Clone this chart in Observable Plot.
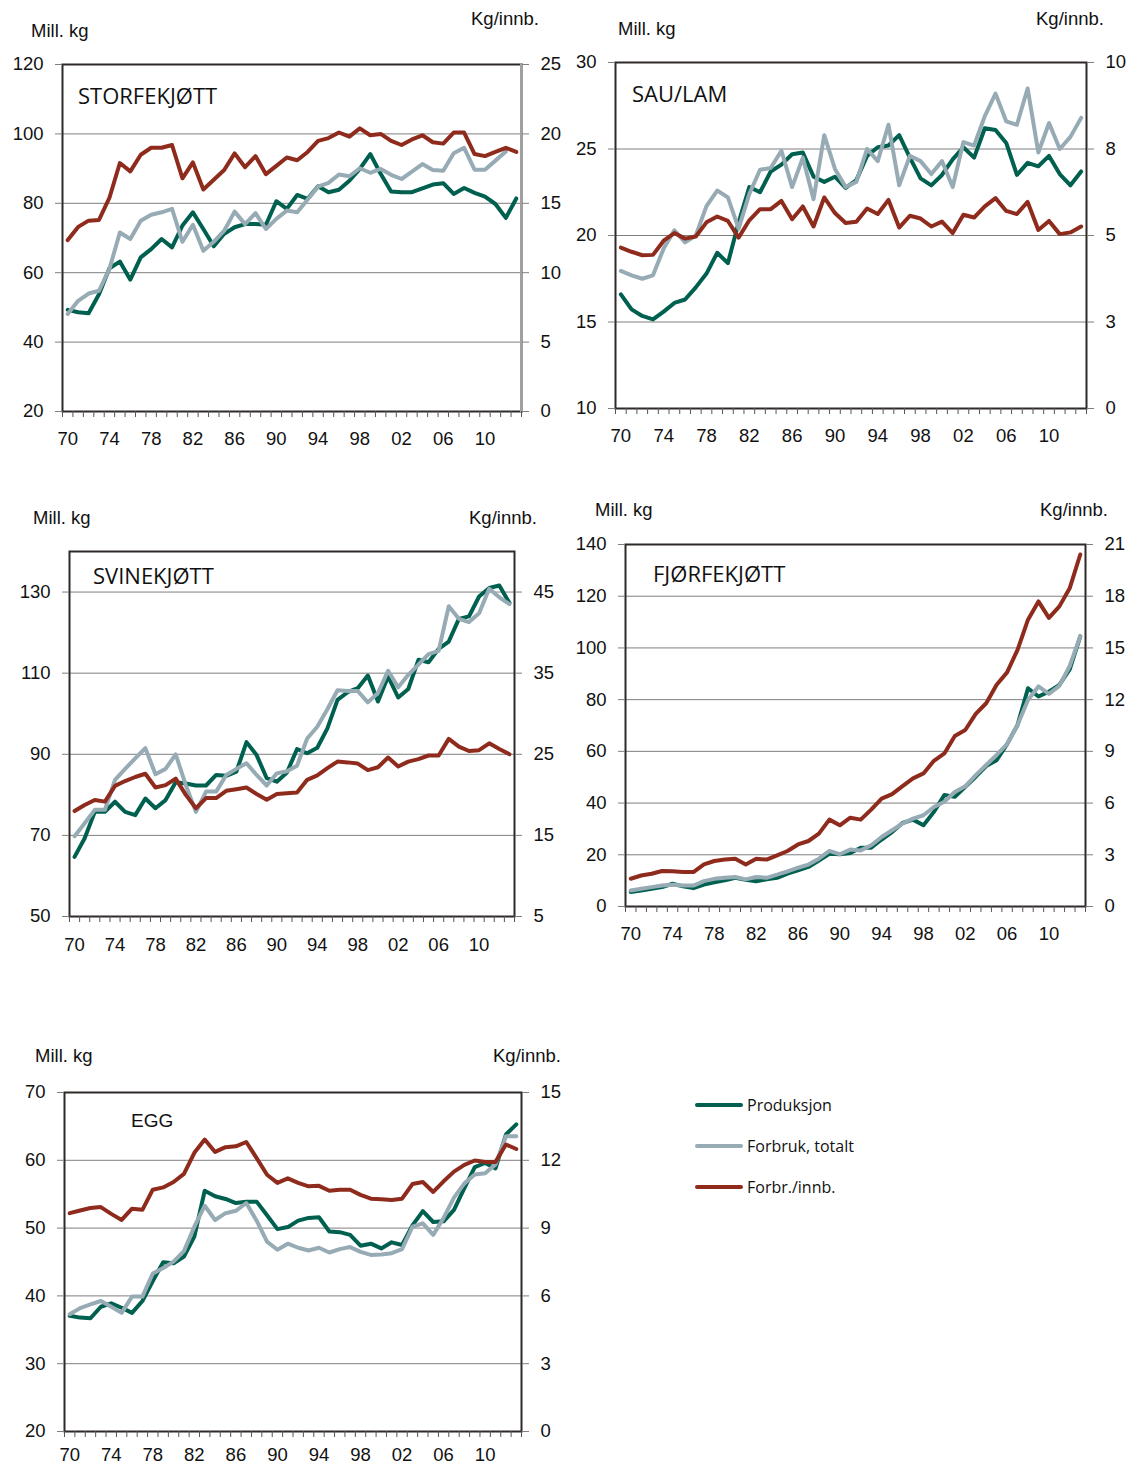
<!DOCTYPE html>
<html><head><meta charset="utf-8">
<script src="https://cdn.jsdelivr.net/npm/d3@7"></script>
<script src="https://cdn.jsdelivr.net/npm/@observablehq/plot@0.6"></script>
<style>
body{margin:0;background:#fff;width:1132px;height:1463px;overflow:hidden;position:relative;font-family:"Liberation Sans",Arial,sans-serif;}
.lab{position:absolute;font-size:18.5px;line-height:18px;color:#111;white-space:nowrap;}
.title{position:absolute;font-family:"Open Sans",sans-serif;font-size:22px;line-height:22px;color:#111;white-space:nowrap;}
.egg{font-family:"Liberation Sans",Arial,sans-serif;font-size:19px;}
.plot{position:absolute;}
.leg{position:absolute;font-family:"Open Sans",sans-serif;font-size:16px;line-height:18px;color:#111;white-space:nowrap;}
.legline{position:absolute;height:4px;border-radius:2px;}
</style></head><body>
<div id="root"></div>
<script>
const years = d3.range(1970, 2014);
const yearLabels = [1970,1974,1978,1982,1986,1990,1994,1998,2002,2006,2010];
const seriesNames = ["Produksjon","Forbruk, totalt","Forbr./innb."];
const seriesColors = ["#00604f","#97abb5","#8f2b1c"];

// STORFEKJØTT (Mill. kg / Kg per innb.)
const storfeProd = [49.3,48.6,48.3,53.8,61.3,63.2,58.0,64.4,66.8,69.7, 67.3,73.6,77.4,72.6,67.6,71.2,73.1,74.0,74.0,73.8, 80.6,78.4,82.4,81.3,84.9,83.2,83.9,86.5,89.9,94.2, 88.5,83.4,83.2,83.2,84.3,85.4,85.8,82.7,84.4,83.0, 81.9,79.8,75.8,81.4];
const storfeForbruk = [48.1,51.9,54.0,54.8,61.1,71.6,69.7,75.0,76.7,77.4, 78.4,68.9,73.8,66.3,68.9,72.1,77.6,74.0,77.2,72.6, 75.5,77.9,77.4,81.1,84.8,85.9,88.3,87.8,90.1,88.8, 89.9,88.2,87.0,89.1,91.3,89.6,89.4,94.4,96.0,89.7, 89.7,92.3,94.9,null];
const storfeInnb = [12.35,13.3,13.75,13.8,15.4,17.9,17.3,18.5,19.0,19.0, 19.2,16.8,17.95,16.0,16.7,17.4,18.6,17.6,18.4,17.1, 17.7,18.3,18.1,18.7,19.5,19.7,20.1,19.8,20.4,19.9, 20.0,19.5,19.2,19.6,19.9,19.4,19.3,20.1,20.1,18.55, 18.4,18.7,19.0,18.7];
const storfeLeftTicks = [20,40,60,80,100,120];
const storfeRightTicks = ["0","5","10","15","20","25"];

// SAU/LAM
const sauProd = [16.6,15.73,15.35,15.15,15.6,16.1,16.3,17.0,17.8,19.0, 18.4,20.75,22.8,22.5,23.7,24.1,24.7,24.8,23.4,23.1, 23.4,22.75,23.2,24.6,25.1,25.2,25.8,24.5,23.3,22.9, 23.5,24.4,25.1,24.5,26.2,26.1,25.35,23.5,24.2,24.0, 24.6,23.55,22.9,23.7];
const sauForbruk = [17.95,17.7,17.5,17.7,19.25,20.3,19.6,20.0,21.7,22.6, 22.2,20.4,22.4,23.8,23.9,24.9,22.8,24.5,22.1,25.8, 23.85,22.8,23.1,25.0,24.3,26.4,22.9,24.6,24.3,23.55, 24.3,22.8,25.4,25.2,26.9,28.2,26.6,26.4,28.5,24.8, 26.5,25.0,25.7,26.8];
const sauInnb = [4.65,4.53,4.43,4.44,4.85,5.07,4.91,4.97,5.38,5.55, 5.42,4.94,5.44,5.76,5.76,6.0,5.47,5.84,5.26,6.1, 5.65,5.36,5.4,5.78,5.62,6.03,5.23,5.57,5.49,5.26, 5.4,5.07,5.6,5.52,5.84,6.08,5.71,5.62,5.97,5.16, 5.42,5.04,5.09,5.26];
const sauLeftTicks = [10,15,20,25,30];
const sauRightTicks = ["0","3","5","8","10"];

// SVINEKJØTT
const svinProd = [64.7,69.3,75.8,75.8,78.3,75.8,75.0,79.1,76.7,78.7, 83.1,82.8,82.3,82.3,84.9,84.7,85.7,93.0,89.8,84.1, 83.25,85.5,91.3,90.25,91.6,96.4,103.4,105.3,106.3,109.4, 103.0,109.2,104.0,106.1,113.3,112.7,116.0,117.8,123.4,124.0, 128.9,131.0,131.6,127.3];
const svinForbruk = [69.8,73.0,76.3,76.3,83.7,86.4,89.0,91.5,85.1,86.4, 90.0,82.4,75.8,80.8,80.8,84.9,86.4,87.8,84.9,82.3, 85.3,85.8,87.2,93.9,96.8,101.1,105.8,105.6,105.6,102.8, 105.1,110.6,106.5,109.6,112.1,114.7,115.5,126.5,123.4,122.6, 124.8,130.8,128.7,127.0];
const svinInnb = [18.0,18.75,19.37,19.16,21.1,21.7,22.2,22.6,20.9,21.2, 22.0,20.0,18.35,19.6,19.6,20.5,20.7,20.9,20.1,19.4, 20.1,20.2,20.3,21.85,22.4,23.3,24.1,24.0,23.85,23.05, 23.4,24.6,23.5,24.1,24.4,24.85,24.85,26.9,25.95,25.4, 25.5,26.35,25.65,25.0];
const svinLeftTicks = [50,70,90,110,130];
const svinRightTicks = ["5","15","25","35","45"];

// FJØRFEKJØTT
const fjorProd = [5.6,6.2,6.85,7.5,8.8,7.8,7.1,8.5,9.4,10.1, 11.1,10.3,9.8,10.5,11.1,12.7,14.0,15.3,17.8,20.4, 20.2,20.7,22.75,22.75,25.9,28.8,32.3,33.6,31.4,36.6, 43.1,42.4,46.3,50.2,54.3,56.6,62.8,70.2,84.4,81.2, 83.1,85.7,91.8,104.5];
const fjorForbruk = [6.2,6.85,7.5,8.1,8.4,8.1,8.1,9.8,10.7,11.1, 11.4,10.5,11.4,11.1,12.3,13.6,15.0,16.2,18.5,21.5, 20.2,22.0,21.7,23.7,26.9,29.5,32.1,34.0,35.3,38.5, 40.5,44.3,46.5,50.8,54.7,58.6,62.8,70.2,79.9,85.1, 82.2,85.3,93.1,104.5];
const fjorInnb = [1.61,1.8,1.9,2.06,2.04,2.0,2.0,2.44,2.64,2.73, 2.77,2.44,2.77,2.72,2.97,3.22,3.6,3.8,4.23,5.04, 4.71,5.15,5.04,5.62,6.26,6.52,6.98,7.43,7.72,8.45, 8.88,9.89,10.24,11.17,11.79,12.86,13.58,14.89,16.64,17.7, 16.74,17.41,18.48,20.42];
const fjorLeftTicks = [0,20,40,60,80,100,120,140];
const fjorRightTicks = ["0","3","6","9","12","15","18","21"];

// EGG
const eggProd = [37.07,36.8,36.7,38.4,38.9,38.25,37.5,39.25,42.2,44.96, 44.8,45.8,48.75,55.5,54.7,54.3,53.7,53.9,53.9,51.9, 49.85,50.15,51.1,51.5,51.6,49.5,49.4,49.0,47.4,47.7, 47.0,47.9,47.5,50.4,52.5,50.9,51.0,52.7,55.9,59.0, 59.6,58.8,63.8,65.3];
const eggForbruk = [37.3,38.2,38.75,39.25,38.4,37.5,39.9,39.9,43.3,44.1, 45.06,46.6,50.2,53.3,51.2,52.2,52.55,53.7,51.1,48.0, 46.8,47.7,47.1,46.7,47.1,46.4,46.9,47.2,46.5,46.05, 46.1,46.3,46.9,50.2,50.7,49.0,51.5,54.5,56.6,57.9, 58.1,59.4,63.55,63.55];
const eggInnb = [9.66,9.78,9.89,9.93,9.63,9.36,9.86,9.81,10.7,10.8, 11.04,11.4,12.33,12.92,12.37,12.58,12.62,12.81,12.1,11.36, 11.0,11.2,11.0,10.85,10.87,10.65,10.7,10.7,10.47,10.3, 10.28,10.24,10.3,10.95,11.04,10.6,11.07,11.5,11.8,11.99, 11.93,11.93,12.7,12.5];
const eggLeftTicks = [20,30,40,50,60,70];
const eggRightTicks = ["0","3","6","9","12","15"];

const root = document.getElementById("root");
function addDiv(cls, text, left, centerY, lh){
  const d = document.createElement("div");
  d.className = cls; d.textContent = text;
  d.style.left = left + "px"; d.style.top = (centerY - lh/2) + "px";
  root.appendChild(d); return d;
}

function panel(cfg){
  const [fx0, fy0, fx1, fy1] = cfg.frame;
  const ML = 60, MR = 45, MT = 12, MB = 45;
  const W = fx1 - fx0 + ML + MR, H = fy1 - fy0 + MT + MB;
  const rightLabel = d => cfg.rightTicks[cfg.leftTicks.indexOf(d)];
  const boundaries = d3.range(1969.5, 2014, 1);
  const vals = [cfg.prod, cfg.forbruk, cfg.innb.map(cfg.toLeft)];
  const lines = vals.map((arr, k) => Plot.line(years, {
    x: d => d, y: (d, i) => arr[i], stroke: seriesColors[k], strokeWidth: 4,
    strokeLinejoin: "round", strokeLinecap: "round"
  }));
  const marks = [
    Plot.gridY(cfg.leftTicks, {stroke: "#7f7f7f", strokeOpacity: 1, strokeWidth: 1}),
    ...lines,
    Plot.frame({stroke: "#2f2a28", strokeWidth: 2}),
  ];
  if (cfg.greyRight) marks.push(Plot.frame({anchor: "right", stroke: "#a0a0a0", strokeWidth: 3}));
  marks.push(
    Plot.axisY(cfg.leftTicks, {anchor: "left", tickSize: 7, tickPadding: 12, label: null, stroke: "#7f7f7f", fill: "#111"}),
    Plot.axisY(cfg.leftTicks, {anchor: "right", tickSize: 7, tickPadding: 12, label: null, stroke: "#7f7f7f", fill: "#111", tickFormat: rightLabel}),
    Plot.axisX(boundaries, {anchor: "bottom", tickSize: 6, tickFormat: () => "", label: null, stroke: "#555"}),
    Plot.axisX(yearLabels, {anchor: "bottom", tickSize: 0, tickPadding: cfg.xPad, label: null, fill: "#111",
      tickFormat: d => String(d % 100).padStart(2, "0")})
  );
  const svg = Plot.plot({
    width: W, height: H, marginLeft: ML, marginRight: MR, marginTop: MT, marginBottom: MB,
    style: {background: "transparent", overflow: "visible", maxWidth: "none",
      fontFamily: '"Liberation Sans", Arial, sans-serif', fontSize: "18.5px", color: "#111"},
    x: {domain: [1969.5, 2013.5]},
    y: {domain: cfg.yDomain},
    marks
  });
  svg.classList.add("plot");
  svg.style.position = "absolute";
  svg.style.left = (fx0 - ML) + "px";
  svg.style.top = (fy0 - MT) + "px";
  root.appendChild(svg);
  addDiv("lab", "Mill. kg", cfg.mill[0], cfg.mill[1], 18);
  addDiv("lab", "Kg/innb.", cfg.kg[0], cfg.kg[1], 18);
  addDiv("title" + (cfg.titleCls ? " " + cfg.titleCls : ""), cfg.title, cfg.titlePos[0], cfg.titlePos[1], 22);
}

panel({frame: [62, 64, 521, 411], yDomain: [20, 120], leftTicks: storfeLeftTicks, rightTicks: storfeRightTicks,
  prod: storfeProd, forbruk: storfeForbruk, innb: storfeInnb, toLeft: v => 20 + v * 4,
  title: "STORFEKJØTT", titlePos: [78, 95], mill: [31, 31], kg: [471, 19], xPad: 20, greyRight: true});
panel({frame: [615, 62, 1086, 408], yDomain: [10, 30], leftTicks: sauLeftTicks, rightTicks: sauRightTicks,
  prod: sauProd, forbruk: sauForbruk, innb: sauInnb, toLeft: v => 10 + v * 2,
  title: "SAU/LAM", titlePos: [632, 93], mill: [618, 29], kg: [1036, 19], xPad: 20});
panel({frame: [69, 551, 514, 916], yDomain: [50, 140], leftTicks: svinLeftTicks, rightTicks: svinRightTicks,
  prod: svinProd, forbruk: svinForbruk, innb: svinInnb, toLeft: v => 50 + (v - 5) * 2,
  title: "SVINEKJØTT", titlePos: [93, 575], mill: [33, 518], kg: [469, 518], xPad: 21});
panel({frame: [625, 544, 1085, 906], yDomain: [0, 140], leftTicks: fjorLeftTicks, rightTicks: fjorRightTicks,
  prod: fjorProd, forbruk: fjorForbruk, innb: fjorInnb, toLeft: v => v / 0.15,
  title: "FJØRFEKJØTT", titlePos: [653, 573], mill: [595, 510], kg: [1040, 510], xPad: 20});
panel({frame: [64, 1092, 521, 1431], yDomain: [20, 70], leftTicks: eggLeftTicks, rightTicks: eggRightTicks,
  prod: eggProd, forbruk: eggForbruk, innb: eggInnb, toLeft: v => 20 + v / 0.3,
  title: "EGG", titlePos: [131, 1121], titleCls: "egg", mill: [35, 1056], kg: [493, 1056], xPad: 16});

// Legend
const legendY = [1105, 1146, 1187];
seriesNames.forEach((name, k) => {
  const ln = document.createElement("div");
  ln.className = "legline";
  ln.style.left = "695px"; ln.style.width = "48px";
  ln.style.top = (legendY[k] - 2) + "px";
  ln.style.background = seriesColors[k];
  root.appendChild(ln);
  addDiv("leg", name, 747, legendY[k], 18);
});
</script>
</body></html>
